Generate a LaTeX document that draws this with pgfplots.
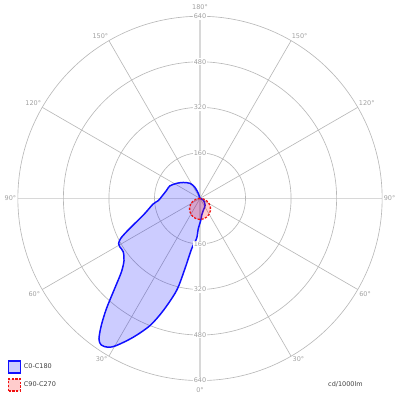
\documentclass[border=0pt]{standalone}
\usepackage{pgfplots}
\pgfplotsset{compat=1.18}
\usepackage{fontspec}
\setmainfont{DejaVu Sans}
\definecolor{gridgray}{HTML}{B8B8B8}
\definecolor{axgray}{HTML}{D8D8D8}
\definecolor{labgray}{HTML}{A0A0A0}
\definecolor{legtext}{HTML}{404040}
\definecolor{cblue}{HTML}{1010FF}
\definecolor{cred}{HTML}{F01010}
\begin{document}
\begin{tikzpicture}
\begin{axis}[
  width=10cm, height=10cm, scale only axis,
  xmin=-705.2, xmax=705.2, ymin=-705.2, ymax=705.2,
  axis lines=none, clip=false,
  font=\fontsize{4.6}{5.5}\selectfont,
  legend style={at={(axis cs:-677,-568)}, anchor=north west, draw=none, fill=none,
    font=\fontsize{4.6}{5.5}\selectfont, text=legtext, row sep=3.2pt, inner sep=0pt,
    nodes={inner xsep=2pt}},
  legend cell align=left,
  legend image code/.code={\draw[#1] (0cm,-0.15cm) rectangle (0.3cm,0.15cm);},
]
% grid
\draw[axgray, line width=1.1pt] (axis cs:-640,0) -- (axis cs:640,0);
\draw[axgray, line width=1.1pt] (axis cs:0,-640) -- (axis cs:0,640);
\pgfplotsinvokeforeach{30,60,120,150,210,240,300,330}{
  \draw[gridgray, line width=0.45pt] (axis cs:0,0) -- (axis cs:{640*cos(#1)},{640*sin(#1)});
}
\pgfplotsinvokeforeach{160,320,480,640}{
  \draw[gridgray, line width=0.45pt] (axis cs:0,0) circle [radius=#1];
}
% C0-C180 (cd/1000lm, cartesian position in the polar diagram)
\addplot[smooth, tension=0.5, draw=cblue, line width=1.05pt, fill=blue, fill opacity=0.2, draw opacity=1] coordinates {
(0,0) (-6,18) (-18,39) (-35,53) (-59,56) (-82,53) (-106,44) (-117,29) (-135,6)
(-147,-8) (-165,-20) (-194,-53) (-229,-88) (-258,-117) (-279,-141) (-286,-159)
(-282,-170) (-270,-187) (-267,-218) (-276,-258) (-300,-317) (-329,-388)
(-347,-447) (-355,-494) (-347,-515) (-323,-523) (-294,-517) (-235,-488)
(-176,-447) (-129,-394) (-82,-323) (-53,-247) (-29,-176) (-12,-141) (-6,-106)
(2.5,-78) (6,-59) (12,-41) (18,-24) (12,-6) (0,0)
};
\addlegendentry{C0-C180}
% C90-C270 (angle, intensity)
\addplot[smooth, draw=cred, line width=0.9pt, dash pattern=on 1.6pt off 1.1pt, fill=red, fill opacity=0.2, draw opacity=1, data cs=polar] coordinates {
(180,0) (190,12.9) (200,25.3) (210,37) (220,47.6) (230,56.7) (240,64.1) (250,69.5)
(260,72.9) (270,74) (280,72.9) (290,69.5) (300,64.1) (310,56.7) (320,47.6)
(330,37) (340,25.3) (350,12.9) (360,0)
};
\addlegendentry{C90-C270}
% radial labels
\pgfplotsinvokeforeach{160,320,480,640}{
  \node[fill=white, inner sep=0.6pt, text=labgray] at (axis cs:0,#1) {#1};
  \node[fill=white, inner sep=0.6pt, text=labgray] at (axis cs:0,-#1) {#1};
}
% angle labels
\node[text=labgray] at (axis cs:0,-672) {0°};
\node[text=labgray] at (axis cs:0,672) {180°};
\node[text=labgray] at (axis cs:-666,0) {90°};
\node[text=labgray] at (axis cs:666,0) {90°};
\node[text=labgray] at (axis cs:-350,570) {150°};
\node[text=labgray] at (axis cs:350,570) {150°};
\node[text=labgray] at (axis cs:-586,336) {120°};
\node[text=labgray] at (axis cs:586,336) {120°};
\node[text=labgray] at (axis cs:-582,-337) {60°};
\node[text=labgray] at (axis cs:580,-337) {60°};
\node[text=labgray] at (axis cs:-346,-566) {30°};
\node[text=labgray] at (axis cs:346,-566) {30°};
\node[text=legtext] at (axis cs:511,-652) {cd/1000lm};
\end{axis}
\end{tikzpicture}
\end{document}
